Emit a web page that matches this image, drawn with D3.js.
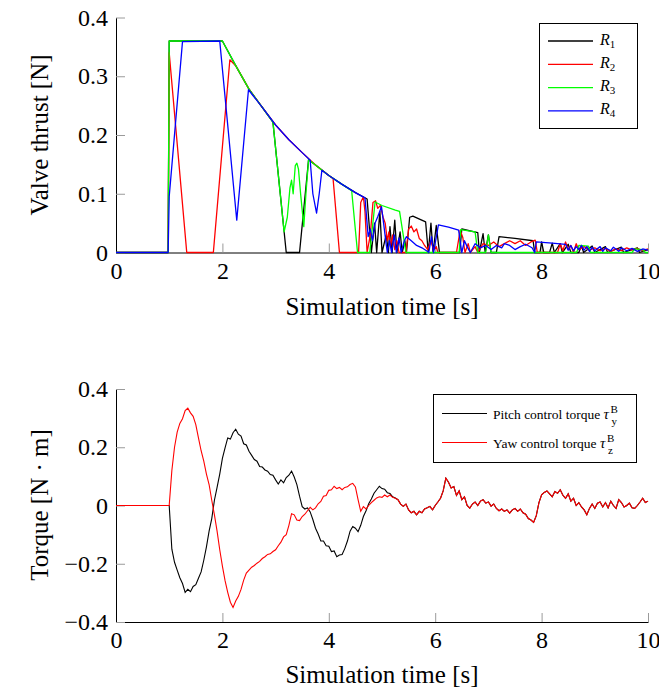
<!DOCTYPE html>
<html>
<head>
<meta charset="utf-8">
<script src="https://cdn.jsdelivr.net/npm/d3@7"></script>
<style>
  body { margin: 0; background: #fff; }
  svg { display: block; }
  text { font-family: "Liberation Serif", "Times New Roman", serif; fill: #000; }
</style>
</head>
<body>
<div id="chart"></div>
<script>
// ---- data ----
const xTicks = [0, 2, 4, 6, 8, 10];
const thrustTicks = [0, 0.1, 0.2, 0.3, 0.4];
const thrustTickLabels = ["0", "0.1", "0.2", "0.3", "0.4"];
const torqueTicks = [-0.4, -0.2, 0, 0.2, 0.4];
const torqueTickLabels = ["\u22120.4", "\u22120.2", "0", "0.2", "0.4"];

const valveNames = ["1", "2", "3", "4"];
const valveColors = ["#000000", "#ff0000", "#00ff00", "#0000ff"];

// valve thrust [t, N]
const r1 = [[0,0],[0.98,0],[1.0,0.36],[2.0,0.36],[2.25,0.318],[2.5,0.278],[2.75,0.247],[2.95,0.222],
  [3.2,0],[3.45,0],[3.62,0.158],[3.75,0.149],[4.0,0.131],[4.25,0.116],[4.5,0.102],[4.72,0.091],
  [4.8,0],[4.86,0.05],[4.9,0],[4.96,0.07],[5.0,0],[5.08,0.03],[5.12,0],[5.15,0.044],[5.19,0],
  [5.24,0.055],[5.28,0],[5.34,0.035],[5.38,0],[5.43,0.02],[5.46,0],[5.52,0.06],[5.58,0.062],
  [5.82,0.052],[5.87,0],[5.92,0.05],[5.96,0],[6.02,0.046],[6.08,0],[6.46,0],[6.5,0.04],[6.8,0.034],
  [6.83,0],[6.9,0.032],[6.94,0],[7.0,0.03],[7.05,0],[7.15,0],[7.2,0.027],[7.5,0.024],[7.84,0.02],
  [7.87,0],[7.97,0],[8.0,0.018],[8.04,0],[8.15,0],[8.2,0.016],[8.24,0],[8.35,0.015],[8.39,0],
  [8.5,0.014],[8.55,0],[8.7,0],[8.75,0.012],[8.79,0],[8.95,0.011],[9.0,0],[9.2,0.01],[9.24,0],
  [9.5,0.009],[9.54,0],[9.8,0.008],[9.84,0],[10,0.005]];

const r2 = [[0,0],[0.98,0],[1.0,0.34],[1.33,0],[1.83,0],[2.14,0.328],[2.25,0.318],[2.5,0.278],
  [2.75,0.247],[3.0,0.217],[3.25,0.192],[3.5,0.17],[3.75,0.149],[4.0,0.131],[4.08,0.126],[4.2,0],
  [4.56,0],[4.6,0.085],[4.65,0.095],[4.68,0.07],[4.72,0],[4.78,0.03],[4.83,0.085],[4.88,0.088],
  [4.92,0.075],[4.97,0.08],[5.02,0.06],[5.06,0.05],[5.1,0.02],[5.13,0.035],[5.16,0.01],[5.2,0.03],
  [5.24,0.005],[5.28,0.02],[5.32,0],[5.45,0],[5.5,0.04],[5.55,0.045],[5.6,0.035],[5.65,0.04],
  [5.7,0.024],[5.75,0.02],[5.8,0.012],[5.86,0.005],[5.92,0.02],[5.97,0.004],[6.02,0.01],[6.05,0],
  [6.4,0],[6.47,0.038],[6.52,0.025],[6.56,0],[6.62,0.015],[6.66,0],[6.75,0.01],[6.8,0],[6.9,0.015],
  [7.0,0.012],[7.1,0.018],[7.2,0.01],[7.3,0.015],[7.4,0.02],[7.5,0.015],[7.6,0.02],[7.7,0.012],
  [7.8,0.018],[7.88,0.021],[7.92,0],[8.3,0],[8.35,0.015],[8.4,0.003],[8.45,0.018],[8.5,0.005],
  [8.55,0.012],[8.6,0],[8.65,0.015],[8.7,0.005],[8.8,0.01],[8.9,0.004],[9.0,0.008],[9.1,0.003],
  [9.2,0.007],[9.3,0.002],[9.4,0.006],[9.5,0.003],[9.6,0.008],[9.7,0.004],[9.8,0.007],[9.9,0.003],
  [10,0.006]];

const r3 = [[0,0],[0.98,0],[1.0,0.36],[2.0,0.36],[2.25,0.318],[2.5,0.278],[2.75,0.247],[2.95,0.222],
  [3.16,0.035],[3.22,0.06],[3.27,0.11],[3.3,0.123],[3.33,0.1],[3.37,0.148],[3.4,0.152],[3.43,0.142],
  [3.47,0.1],[3.53,0.044],[3.57,0.1],[3.62,0.158],[3.75,0.149],[4.0,0.131],[4.25,0.116],[4.43,0.105],
  [4.54,0],[4.77,0],[4.87,0.086],[5.0,0.08],[5.25,0.072],[5.33,0.07],[5.45,0],[6.45,0],[6.48,0.039],
  [6.75,0.035],[6.8,0],[6.95,0],[7.0,0.03],[7.05,0],[8.66,0],[8.7,0.012],[8.88,0.011],[8.92,0],
  [9.7,0],[9.75,0.006],[9.9,0.005],[9.95,0],[10,0]];

const r4 = [[0,0],[0.98,0],[1.0,0.095],[1.25,0.359],[1.95,0.36],[2.27,0.055],[2.49,0.277],[2.75,0.247],
  [3.0,0.217],[3.25,0.192],[3.5,0.17],[3.65,0.157],[3.7,0.1],[3.77,0.067],[3.82,0.1],[3.87,0.14],
  [4.0,0.131],[4.25,0.116],[4.5,0.102],[4.68,0.093],[4.74,0.027],[4.78,0.04],[4.82,0.02],[4.87,0.05],
  [4.92,0.061],[4.99,0.078],[5.03,0.05],[5.07,0.02],[5.1,0],[5.14,0.02],[5.18,0],[5.23,0.03],[5.27,0],
  [5.32,0.025],[5.36,0],[5.42,0.02],[5.46,0.027],[5.55,0.02],[5.65,0.012],[5.75,0.008],[5.85,0.002],
  [5.88,0],[5.93,0.027],[5.97,0],[6.06,0.047],[6.25,0.043],[6.44,0.038],[6.5,0],[6.55,0.02],[6.6,0.01],
  [6.66,0],[6.75,0.015],[6.85,0.008],[6.95,0.012],[7.05,0.005],[7.15,0.012],[7.25,0.008],[7.3,0.015],
  [7.4,0.012],[7.5,0.005],[7.6,0.01],[7.7,0.014],[7.82,0.008],[7.87,0],[7.9,0.018],[8.2,0.016],
  [8.45,0.014],[8.5,0.004],[8.55,0.012],[8.6,0.003],[8.65,0.01],[8.7,0.005],[8.75,0.012],[8.8,0.004],
  [8.85,0.01],[8.9,0.002],[8.95,0.009],[9.0,0.003],[9.1,0.01],[9.15,0.002],[9.2,0.008],[9.3,0.003],
  [9.35,0.009],[9.45,0.002],[9.5,0.008],[9.6,0.003],[9.7,0.007],[9.8,0.002],[9.9,0.006],[10,0.004]];

// control torque, sampled every 0.05 s
const torqueStep = 0.05;
const torqueStart = 1.0;   // before this both torques are 0
const pitchEarly = [0,-0.15,-0.195,-0.222,-0.248,-0.268,-0.298,-0.288,-0.296,-0.278,
  -0.272,-0.25,-0.228,-0.188,-0.142,-0.088,-0.045,0.018,0.062,0.108,
  0.162,0.198,0.232,0.228,0.25,0.262,0.245,0.238,0.212,0.208,
  0.186,0.172,0.158,0.152,0.134,0.132,0.122,0.118,0.106,0.104,
  0.088,0.074,0.088,0.078,0.096,0.104,0.118,0.098,0.072,0.032,
  -0.004,-0.012,-0.008,-0.022,-0.048,-0.078,-0.098,-0.122,-0.122,-0.138,
  -0.14,-0.158,-0.156,-0.176,-0.17,-0.168,-0.148,-0.122,-0.088,-0.072,
  -0.078,-0.09,-0.068,-0.038,-0.018,0.006,0.022,0.042,0.054,0.066,
  0.058,0.056,0.044,0.041,0.03,0.026];
const yawEarly = [0,0.12,0.2,0.252,0.282,0.298,0.326,0.334,0.318,0.306,
  0.278,0.232,0.188,0.152,0.108,0.072,0.018,-0.032,-0.088,-0.152,
  -0.208,-0.258,-0.298,-0.332,-0.35,-0.328,-0.312,-0.288,-0.256,-0.232,
  -0.222,-0.212,-0.206,-0.198,-0.192,-0.182,-0.176,-0.168,-0.166,-0.158,
  -0.152,-0.138,-0.126,-0.108,-0.1,-0.068,-0.028,-0.032,-0.05,-0.052,
  -0.038,-0.03,-0.018,-0.006,-0.015,-0.008,0.006,0.014,0.032,0.034,
  0.052,0.054,0.066,0.058,0.062,0.054,0.062,0.064,0.072,0.076,
  0.064,0.02,-0.02,-0.004,-0.012,0.0,0.01,0.018,0.026,0.03,
  0.028,0.036,0.03,0.036,0.028,0.025];
// both torques coincide after ~5.3 s
const torqueLate = [0.02,0.005,-0.003,0.005,-0.015,-0.025,-0.02,-0.032,-0.02,-0.025,
  -0.012,-0.008,-0.003,-0.015,0.0,0.012,0.025,0.05,0.094,0.08,
  0.06,0.065,0.035,0.05,0.02,0.03,0.0,-0.009,0.005,0.012,
  0.0,0.015,0.02,0.008,0.012,-0.002,0.005,-0.01,-0.018,-0.012,
  -0.02,-0.015,-0.026,-0.015,-0.01,-0.02,-0.012,-0.025,-0.03,-0.045,
  -0.05,-0.058,-0.035,0.01,0.037,0.045,0.05,0.04,0.03,0.048,
  0.042,0.054,0.035,0.025,0.04,0.015,0.025,0.0,0.01,-0.005,
  -0.015,-0.032,-0.01,0.005,-0.01,0.008,0.012,-0.005,0.01,-0.008,
  0.015,0.0,-0.01,0.02,0.01,-0.005,0.0,0.008,-0.008,-0.01,
  0.0,0.012,0.025,0.01,0.015];

// ---- drawing ----
const W = 659, H = 692;
const svg = d3.select("#chart").append("svg").attr("width", W).attr("height", H);

const x = d3.scaleLinear().domain([0, 10]).range([116, 648]);
const yTop = d3.scaleLinear().domain([0, 0.4]).range([252.5, 17.5]);
const yBot = d3.scaleLinear().domain([-0.4, 0.4]).range([622, 389]);

function drawAxes(y, ticks, labels, yBase) {
  const gx = svg.append("g")
    .attr("transform", `translate(0,${yBase})`)
    .call(d3.axisBottom(x).tickValues(xTicks).tickSize(-9).tickSizeOuter(0).tickPadding(9)
      .tickFormat(d3.format("d")));
  const gy = svg.append("g")
    .attr("transform", "translate(116,0)")
    .call(d3.axisLeft(y).tickValues(ticks).tickSize(-9).tickSizeOuter(0).tickPadding(8)
      .tickFormat((d, i) => labels[i]));
  [gx, gy].forEach(g => {
    g.attr("font-family", null).attr("font-size", null);
    g.select(".domain").attr("stroke", "#000").attr("stroke-width", 1);
    g.selectAll(".tick line").attr("stroke", "#9a9a9a").attr("stroke-width", 1);
    g.selectAll(".tick text").style("font-size", "24px").attr("fill", "#000");
  });
}

drawAxes(yTop, thrustTicks, thrustTickLabels, 252.5);
drawAxes(yBot, torqueTicks, torqueTickLabels, 622);

// axis titles
svg.append("text").attr("x", 382).attr("y", 315).attr("text-anchor", "middle")
  .style("font-size", "25px").text("Simulation time [s]");
svg.append("text").attr("x", 382).attr("y", 683).attr("text-anchor", "middle")
  .style("font-size", "25px").text("Simulation time [s]");
svg.append("text").attr("transform", "translate(48,135) rotate(-90)").attr("text-anchor", "middle")
  .style("font-size", "25px").text("Valve thrust [N]");
svg.append("text").attr("transform", "translate(48,505) rotate(-90)").attr("text-anchor", "middle")
  .style("font-size", "25px").text("Torque [N \u00b7 m]");

// thrust lines
const lineTop = d3.line().x(d => x(d[0])).y(d => yTop(d[1]));
[r1, r2, r3, r4].forEach((s, i) => {
  svg.append("path").datum(s).attr("d", lineTop)
    .attr("fill", "none").attr("stroke", valveColors[i]).attr("stroke-width", 1.3)
    .attr("stroke-linejoin", "round");
});

// torque lines
function torqueSeries(early) {
  const pts = [[0, 0]];
  early.concat(torqueLate).forEach((v, i) => pts.push([torqueStart + i * torqueStep, v]));
  return pts;
}
const lineBot = d3.line().x(d => x(d[0])).y(d => yBot(d[1]));
svg.append("path").datum(torqueSeries(pitchEarly)).attr("d", lineBot)
  .attr("fill", "none").attr("stroke", "#000").attr("stroke-width", 1.1);
svg.append("path").datum(torqueSeries(yawEarly)).attr("d", lineBot)
  .attr("fill", "none").attr("stroke", "#ff0000").attr("stroke-width", 1.1);

// legend top
const legTop = svg.append("g");
legTop.append("rect").attr("x", 539.5).attr("y", 23.5).attr("width", 98).attr("height", 105)
  .attr("fill", "#fff").attr("stroke", "#000").attr("stroke-width", 1);
valveNames.forEach((n, i) => {
  const ly = 41 + i * 23.3;
  legTop.append("line").attr("x1", 548).attr("x2", 593).attr("y1", ly).attr("y2", ly)
    .attr("stroke", valveColors[i]).attr("stroke-width", 1.3);
  const t = legTop.append("text").attr("x", 600).attr("y", ly + 3.5).style("font-size", "16px");
  t.append("tspan").style("font-style", "italic").text("R");
  t.append("tspan").attr("dy", 3).style("font-size", "11px").text(n);
});

// legend bottom
const legBot = svg.append("g");
legBot.append("rect").attr("x", 433.5).attr("y", 394.5).attr("width", 203).attr("height", 68)
  .attr("fill", "#fff").attr("stroke", "#000").attr("stroke-width", 1);
const torqueNames = ["Pitch control torque ", "Yaw control torque "];
const torqueSubs = ["y", "z"];
const torqueColors = ["#000000", "#ff0000"];
torqueNames.forEach((n, i) => {
  const ly = 413.5 + i * 29;
  legBot.append("line").attr("x1", 442).attr("x2", 487).attr("y1", ly).attr("y2", ly)
    .attr("stroke", torqueColors[i]).attr("stroke-width", 1.1);
  const t = legBot.append("text").attr("x", 493).attr("y", ly + 5).style("font-size", "13.5px");
  t.append("tspan").text(n);
  t.append("tspan").style("font-style", "italic").style("font-size", "15px").text("\u03c4");
  const xe = 493 + t.node().getComputedTextLength() + 1.5;
  // superscript B and subscript stacked, kept just clear of each other
  t.append("tspan").attr("x", xe).attr("y", ly - 0.8).style("font-size", "11px").text("B");
  t.append("tspan").attr("x", xe + 1).attr("y", ly + 11.2).style("font-size", "11px").text(torqueSubs[i]);
});
</script>
</body>
</html>
